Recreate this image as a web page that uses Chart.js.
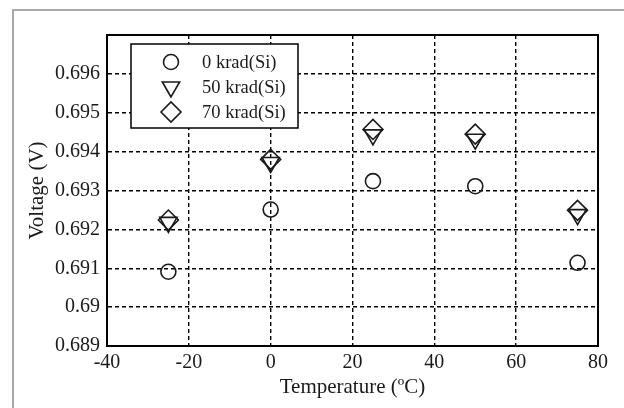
<!DOCTYPE html>
<html>
<head>
<meta charset="utf-8">
<script src="https://cdn.jsdelivr.net/npm/chart.js@4.4.0/dist/chart.umd.min.js"></script>
<style>
  html, body { margin: 0; padding: 0; background: #fff; }
  #wrap { position: relative; width: 624px; height: 408px; }
  #frame { position: absolute; left: 12px; top: 9px; right: 0; bottom: 0;
           border-top: 2px solid #a8a8a8; border-left: 2px solid #a8a8a8; pointer-events: none; }
</style>
</head>
<body>
<div id="wrap">
  <canvas id="chart" width="624" height="408"></canvas>
  <div id="frame"></div>
</div>
<script>
// ---- data ----
const temps = [-25, 0, 25, 50, 75];
const seriesLabels = ['0 krad(Si)', '50 krad(Si)', '70 krad(Si)'];
const v0 = [0.69091, 0.69251, 0.69324, 0.69311, 0.69114];
const v50 = [0.69218, 0.69372, 0.69443, 0.69432, 0.69238];
const v70 = [0.69224, 0.69380, 0.69457, 0.69445, 0.69249];
const xTicks = [-40, -20, 0, 20, 40, 60, 80];
const yTicks = [0.689, 0.69, 0.691, 0.692, 0.693, 0.694, 0.695, 0.696];

const FONT = '"Liberation Serif", "DejaVu Serif", serif';
const INK = '#1a1a1a';

const toPoints = ys => temps.map((t, i) => ({ x: t, y: ys[i] }));

// Box around the plot area
const frameBox = {
    id: 'frameBox',
    afterDraw(chart) {
        const { ctx, chartArea: a } = chart;
        ctx.save();
        ctx.strokeStyle = '#000';
        ctx.lineWidth = 2;
        ctx.setLineDash([]);
        ctx.strokeRect(a.left, a.top, a.right - a.left, a.bottom - a.top);
        ctx.restore();
    }
};

// Legend drawn inside the axes, top-left
const insideLegend = {
    id: 'insideLegend',
    afterDraw(chart) {
        const ctx = chart.ctx;
        const a = chart.chartArea;
        const bx = a.left + 24, by = a.top + 9, bw = 167, bh = 84;
        ctx.save();
        ctx.fillStyle = '#fff';
        ctx.fillRect(bx, by, bw, bh);
        ctx.strokeStyle = '#000';
        ctx.lineWidth = 1.5;
        ctx.strokeRect(bx, by, bw, bh);
        ctx.font = '18.5px ' + FONT;
        ctx.textBaseline = 'middle';
        chart.data.datasets.forEach((ds, i) => {
            const cy = by + 18 + i * 25;
            const cx = bx + 40;
            ctx.fillStyle = 'rgba(0,0,0,0)';
            ctx.strokeStyle = ds.borderColor;
            ctx.lineWidth = ds.borderWidth;
            Chart.helpers.drawPoint(ctx, {
                pointStyle: ds.pointStyle,
                rotation: ds.pointRotation || 0,
                radius: ds.pointRadius,
                borderWidth: ds.borderWidth
            }, cx, cy);
            ctx.fillStyle = INK;
            ctx.fillText(ds.label, bx + 71, cy + 1);
        });
        ctx.restore();
    }
};

new Chart(document.getElementById('chart'), {
    type: 'scatter',
    data: {
        datasets: [
            { label: seriesLabels[0], data: toPoints(v0), pointStyle: 'circle', pointRadius: 7.5,
              borderColor: INK, backgroundColor: 'rgba(0,0,0,0)', borderWidth: 1.6 },
            { label: seriesLabels[1], data: toPoints(v50), pointStyle: 'triangle', pointRotation: 180, pointRadius: 10,
              borderColor: INK, backgroundColor: 'rgba(0,0,0,0)', borderWidth: 1.6 },
            { label: seriesLabels[2], data: toPoints(v70), pointStyle: 'rectRot', pointRadius: 10,
              borderColor: INK, backgroundColor: 'rgba(0,0,0,0)', borderWidth: 1.6 }
        ]
    },
    options: {
        responsive: false,
        animation: false,
        layout: { padding: { left: 25, right: 26, top: 35, bottom: 8 } },
        plugins: {
            legend: { display: false },
            tooltip: { enabled: false }
        },
        scales: {
            x: {
                type: 'linear',
                min: -40, max: 80,
                afterBuildTicks: s => { s.ticks = xTicks.map(v => ({ value: v })); },
                afterFit: s => { s.height = 54; },
                grid: { color: '#000', lineWidth: 1.4, drawTicks: false },
                border: { display: true, color: '#000', width: 2, dash: [4, 3] },
                ticks: { color: INK, padding: 5, font: { family: FONT, size: 20 }, maxRotation: 0 },
                title: { display: true, text: 'Temperature (ºC)', color: INK, padding: 0,
                         font: { family: FONT, size: 21 } }
            },
            y: {
                type: 'linear',
                min: 0.689, max: 0.697,
                afterBuildTicks: s => { s.ticks = yTicks.concat([0.697]).map(v => ({ value: v })); },
                afterFit: s => { s.width = 82; },
                grid: { color: '#000', lineWidth: 1.4, drawTicks: false },
                border: { display: true, color: '#000', width: 2, dash: [4, 3] },
                ticks: {
                    color: INK, padding: 7, font: { family: FONT, size: 20 },
                    callback: v => (v > 0.6965 ? '' : String(Number(v.toFixed(3))))
                },
                title: { display: true, text: 'Voltage (V)', color: INK, padding: 0,
                         font: { family: FONT, size: 21 } }
            }
        }
    },
    plugins: [frameBox, insideLegend]
});
</script>
</body>
</html>
